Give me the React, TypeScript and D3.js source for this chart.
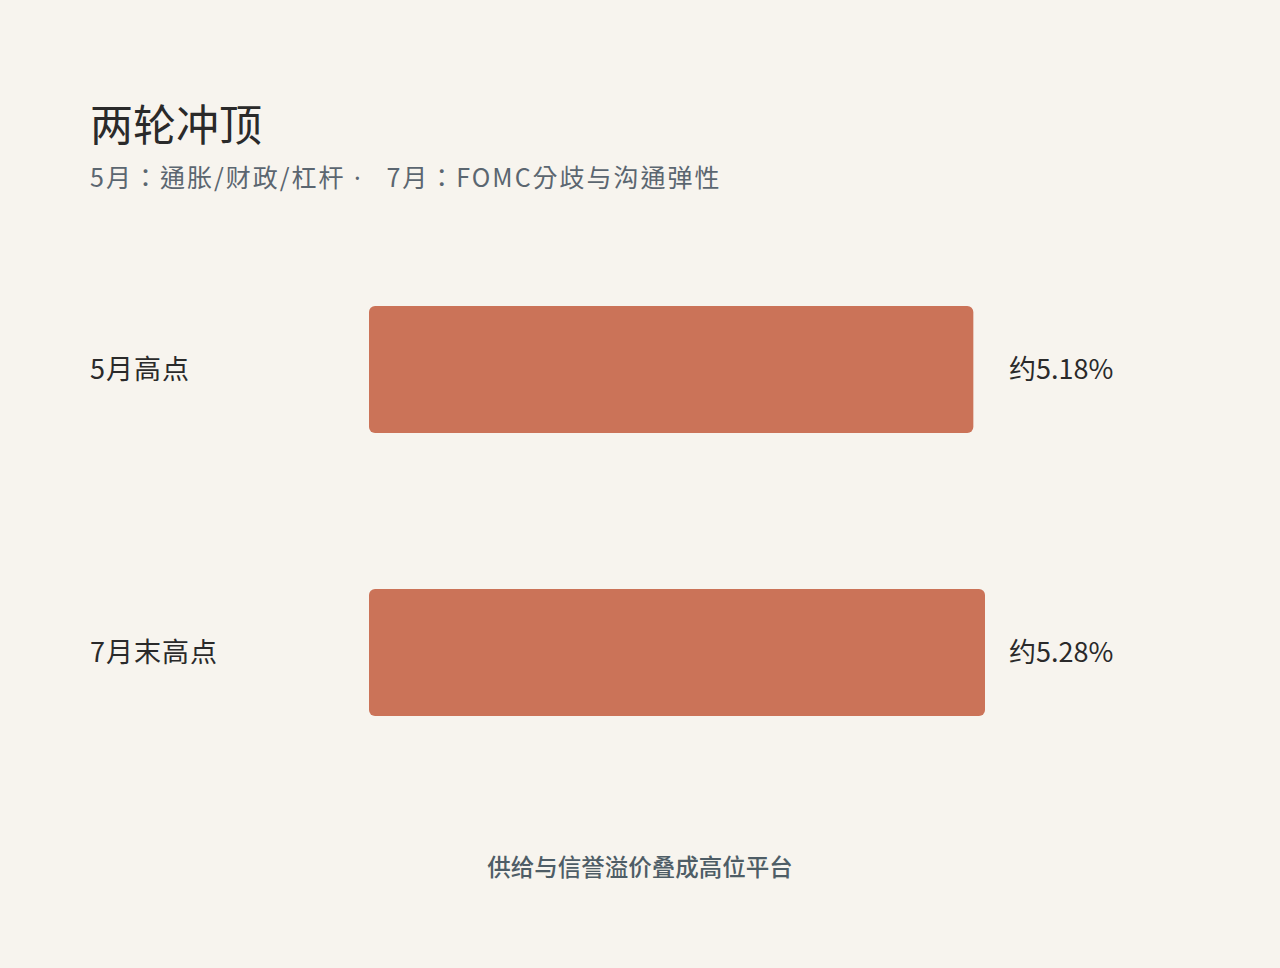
import React from "react";
import * as d3 from "d3";

const categories = ["5月高点", "7月末高点"];
const values = [5.18, 5.28];
const valueLabels = ["约5.18%", "约5.28%"];
const title = "两轮冲顶";
const subtitleA = "5月：通胀/财政/杠杆";
const subtitleSep = " · ";
const subtitleB = "  7月：FOMC分歧与沟通弹性";
const footer = "供给与信誉溢价叠成高位平台";

const W = 1280;
const H = 968;
const FONT = "'Noto Sans CJK SC', 'Noto Sans', sans-serif";
const FONT_TC = "'Noto Sans CJK TC', 'Noto Sans', sans-serif";

export default function App() {
  const x = d3.scaleLinear().domain([0, 5.28]).range([369, 985]);
  const y = d3.scaleBand<string>().domain(categories).range([306, 716]).paddingInner(0.551).paddingOuter(0);
  return (
    <svg width={W} height={H} style={{ position: "absolute", left: 0, top: 0, display: "block" }}>
      <rect x={0} y={0} width={W} height={H} fill="#f7f4ee" />
      <text x={90} y={141} fontFamily={FONT} fontSize={43} fill="#2a2a2a" fontWeight={400}>{title}</text>
      <text x={90} y={187} fontFamily={FONT_TC} fontSize={25} letterSpacing={2} fill="#5b6670" style={{ whiteSpace: "pre" }}>
        <tspan>{subtitleA}</tspan>
        <tspan fontFamily="'Noto Sans', sans-serif">{subtitleSep}</tspan>
        <tspan>{subtitleB}</tspan>
      </text>
      {categories.map((c, i) => {
        const yy = y(c) as number;
        const bh = y.bandwidth();
        return (
          <g key={c}>
            <text x={90} y={yy + bh / 2} dy="0.35em" fontFamily={FONT} fontSize={27} letterSpacing={1} fill="#2a2a2a">{c}</text>
            <rect x={x(0)} y={yy} width={x(values[i]) - x(0)} height={bh} rx={6} ry={6} fill="#cb7358" />
            <text x={1009} y={yy + bh / 2} dy="0.35em" fontFamily={FONT} fontSize={27} letterSpacing={0} fill="#2a2a2a">{valueLabels[i]}</text>
          </g>
        );
      })}
      <text x={640} y={868} dy="0.35em" textAnchor="middle" fontFamily={FONT} fontSize={23.5} fontWeight={500} fill="#4e5d66">{footer}</text>
    </svg>
  );
}
